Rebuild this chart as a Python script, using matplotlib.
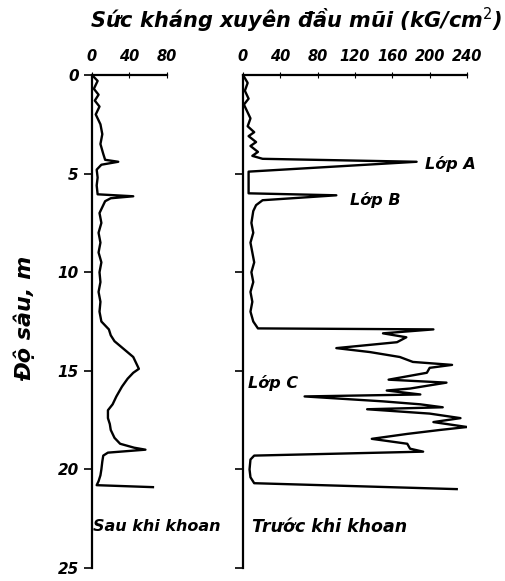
import matplotlib
matplotlib.use("Agg")
import matplotlib.pyplot as plt

# depth (m) and cone resistance (kG/cm2)
depth_after = [0, 0.3, 0.7, 1.0, 1.3, 1.6, 2.0, 2.5, 3.0, 3.5,
               4.0, 4.3, 4.4, 4.55, 4.8, 5.2, 5.6, 6.05, 6.15, 6.25,
               6.4, 6.6, 7.0, 7.5, 8.0, 8.5, 9.0, 9.5, 10.0, 10.5,
               11.0, 11.5, 12.0, 12.5, 12.9, 13.2, 13.5, 13.9, 14.3, 14.6,
               14.9, 15.1, 15.4, 15.8, 16.3, 16.7, 17.0, 17.4, 17.7, 18.0,
               18.4, 18.7, 18.9, 19.0, 19.15, 19.3, 19.6, 20.0, 20.3, 20.6,
               20.8, 20.9]
qc_after = [0, 6, 2, 7, 3, 8, 4, 9, 11, 9,
            12, 14, 28, 10, 5, 6, 5, 6, 44, 20,
            14, 12, 8, 10, 7, 9, 7, 10, 8, 9,
            7, 9, 8, 10, 18, 20, 24, 34, 44, 47,
            50, 44, 38, 32, 26, 22, 17, 17, 19, 20,
            24, 30, 45, 57, 17, 12, 11, 10, 9, 7,
            5, 65]

depth_before = [0, 0.4, 0.8, 1.2, 1.5, 1.8, 2.2, 2.6, 2.9, 3.1,
                3.4, 3.6, 3.9, 4.1, 4.25, 4.4, 4.9, 5.3, 5.7, 6.0,
                6.1, 6.35, 6.6, 6.9, 7.5, 8.0, 8.5, 9.0, 9.5, 10.0,
                10.5, 11.0, 11.5, 12.0, 12.5, 12.85, 12.9, 13.1, 13.3, 13.55,
                13.85, 14.05, 14.3, 14.55, 14.7, 14.85, 15.1, 15.45, 15.6, 15.9,
                16.0, 16.2, 16.3, 16.55, 16.7, 16.85, 16.95, 17.17, 17.4, 17.6,
                17.85, 18.0, 18.2, 18.45, 18.7, 18.95, 19.1, 19.3, 19.5, 20.0,
                20.4, 20.7, 21.0]
qc_before = [0, 5, 2, 6, 1, 4, 8, 5, 12, 6,
             14, 8, 16, 10, 21, 186, 6, 6, 6, 6,
             100, 21, 14, 11, 9, 11, 8, 10, 12, 9,
             11, 8, 10, 8, 11, 16, 204, 150, 175, 165,
             100, 136, 168, 182, 224, 200, 197, 156, 218, 179,
             154, 190, 66, 150, 190, 214, 133, 200, 233, 204,
             240, 211, 176, 138, 176, 179, 193, 12, 8, 7,
             8, 12, 229]

depth_ticks = [0, 5, 10, 15, 20, 25]
ticks_after = [0, 40, 80]
ticks_before = [0, 40, 80, 120, 160, 200, 240]

W, H = 506, 581
fig = plt.figure(figsize=(W / 100, H / 100), dpi=100)
font = dict(style="italic", weight="bold")

bottom = 1 - 568 / H
height = (568 - 75) / H
ax1 = fig.add_axes([92 / W, bottom, (167 - 92) / W, height])
ax2 = fig.add_axes([243 / W, bottom, (467 - 243) / W, height])

ax1.plot(qc_after, depth_after, color="black", lw=1.7)
ax2.plot(qc_before, depth_before, color="black", lw=1.7)

for ax, xt in ((ax1, ticks_after), (ax2, ticks_before)):
    ax.set_ylim(25, 0)
    ax.set_xlim(0, xt[-1])
    ax.spines["right"].set_visible(False)
    ax.spines["bottom"].set_visible(False)
    ax.spines["left"].set_linewidth(1.6)
    ax.spines["top"].set_linewidth(1.6)
    ax.xaxis.tick_top()
    ax.set_xticks(xt)
    ax.set_xticklabels([str(v) for v in xt], fontsize=10.5, **font)
    ax.tick_params(axis="x", direction="inout", length=4, pad=6)
    ax.tick_params(axis="y", direction="out", length=6, width=1.2)
    ax.set_facecolor("none")

ax1.set_yticks(depth_ticks)
ax1.set_yticklabels([str(v) for v in depth_ticks], fontsize=11, **font)
ax2.set_yticks(depth_ticks[1:])
ax2.set_yticklabels([])

fig.text(0.585, 1 - 20 / H, "Sức kháng xuyên đầu mũi (kG/cm$^2$)",
         ha="center", va="center", fontsize=15, **font)
fig.text(24 / W, 1 - 318 / H, "Độ sâu, m", rotation=90,
         ha="center", va="center", fontsize=16, **font)

ax2.text(195, 4.5, "Lớp A", ha="left", va="center", fontsize=11.5, **font)
ax2.text(115, 6.35, "Lớp B", ha="left", va="center", fontsize=11.5, **font)
ax2.text(5, 15.6, "Lớp C", ha="left", va="center", fontsize=11.5, **font)
ax1.text(1, 22.9, "Sau khi khoan", ha="left", va="center", fontsize=11.5, **font)
ax2.text(10, 22.9, "Trước khi khoan", ha="left", va="center", fontsize=12.5, **font)

fig.savefig("out.png", dpi=100)
